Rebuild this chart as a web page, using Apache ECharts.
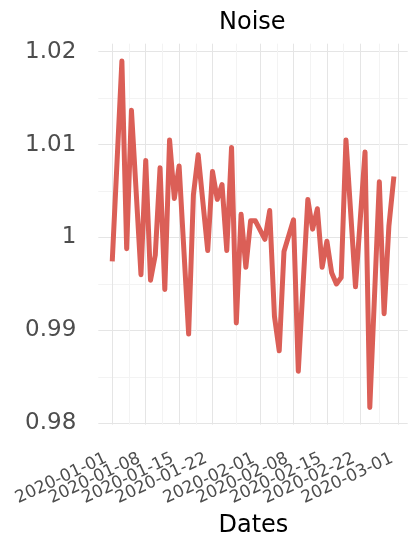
<!DOCTYPE html>
<html>
<head>
<meta charset="utf-8">
<script src="https://cdn.jsdelivr.net/npm/echarts@6/dist/echarts.min.js"></script>
<style>html,body{margin:0;padding:0;background:#fff}#c{width:417px;height:547px}</style>
</head>
<body>
<div id="c"></div>
<script>
// ---- data ----
const dates = [
  '2020-01-01','2020-01-03','2020-01-04','2020-01-05','2020-01-07','2020-01-08','2020-01-09','2020-01-10',
  '2020-01-11','2020-01-12','2020-01-13','2020-01-14','2020-01-15','2020-01-17','2020-01-18','2020-01-19',
  '2020-01-21','2020-01-22','2020-01-23','2020-01-24','2020-01-25','2020-01-26','2020-01-27','2020-01-28',
  '2020-01-29','2020-01-30','2020-01-31','2020-02-01','2020-02-02','2020-02-03','2020-02-04','2020-02-05',
  '2020-02-06','2020-02-08','2020-02-09','2020-02-11','2020-02-12','2020-02-13','2020-02-14','2020-02-15',
  '2020-02-16','2020-02-17','2020-02-18','2020-02-19','2020-02-21','2020-02-23','2020-02-24','2020-02-26',
  '2020-02-27','2020-02-28','2020-02-29'
];
const noise = [
  0.9977, 1.0190, 0.9988, 1.0137, 0.9960, 1.0083, 0.9954, 0.9981,
  1.0075, 0.9944, 1.0105, 1.0042, 1.0077, 0.9896, 1.0046, 1.0089,
  0.9986, 1.0071, 1.0041, 1.0057, 0.9986, 1.0097, 0.9908, 1.0025,
  0.9968, 1.0018, 1.0018, 1.0008, 0.9998, 1.0029, 0.9915, 0.9878,
  0.9985, 1.0019, 0.9856, 1.0041, 1.0009, 1.0031, 0.9968, 0.9996,
  0.9962, 0.9950, 0.9957, 1.0105, 0.9947, 1.0092, 0.9817, 1.0060,
  0.9918, 1.0012, 1.0063
];
const xTickLabels = ['2020-01-01','2020-01-08','2020-01-15','2020-01-22','2020-02-01','2020-02-08','2020-02-15','2020-02-22','2020-03-01'];
const yTickValues = [0.98, 0.99, 1.00, 1.01, 1.02];
const yTickLabels = ['0.98', '0.99', '1', '1.01', '1.02'];
const yMinorValues = [0.985, 0.995, 1.005, 1.015];

// ---- helpers ----
const DAY = 86400000;
const t0 = Date.parse('2020-01-01');
const toDay = d => (Date.parse(d) - t0) / DAY;
const xMajor = xTickLabels.map(toDay);
const xMinor = xMajor.slice(1).map((v, i) => (v + xMajor[i]) / 2);
const seriesData = dates.map((d, i) => [toDay(d), noise[i]]);
const labelForDay = v => { const i = xMajor.findIndex(m => Math.abs(m - v) < 1e-6); return i >= 0 ? xTickLabels[i] : ''; };
const labelForY = v => { const i = yTickValues.findIndex(m => Math.abs(m - v) < 1e-9); return i >= 0 ? yTickLabels[i] : ''; };

const FONT = 'DejaVu Sans';
const X_MIN = -2.95, X_MAX = 61.95, Y_MIN = 0.97986, Y_MAX = 1.02086;
const grid = { left: 98.3, right: 9.3, top: 43.7, bottom: 122.4, containLabel: false };

const chart = echarts.init(document.getElementById('c'), null, { renderer: 'canvas' });
chart.setOption({
  animation: false,
  backgroundColor: '#fff',
  title: [
    { text: 'Noise', left: 214, top: 6, textStyle: { fontFamily: FONT, fontSize: 24, fontWeight: 'normal', color: '#000' } },
    { text: 'Dates', left: 213.5, top: 509, textStyle: { fontFamily: FONT, fontSize: 24, fontWeight: 'normal', color: '#000' } }
  ],
  grid: [grid],
  xAxis: [
    {
      type: 'value', min: X_MIN, max: X_MAX,
      axisLine: { show: false },
      axisTick: { show: false, customValues: xMajor },
      splitLine: { show: true, lineStyle: { color: '#e5e5e5', width: 1 } },
      axisLabel: {
        // boundary placeholders keep the real labels from being auto-hidden when they overlap
        customValues: [X_MIN].concat(xMajor, [X_MAX]), rotate: 25, margin: 30, padding: [0, 7, 0, 0],
        showMinLabel: false, showMaxLabel: false, hideOverlap: false,
        fontFamily: FONT, fontSize: 17, color: '#4d4d4d',
        formatter: v => labelForDay(v)
      }
    },
    {
      type: 'value', min: X_MIN, max: X_MAX, position: 'bottom',
      axisLine: { show: false },
      axisTick: { show: false, customValues: xMinor },
      axisLabel: { show: false, customValues: xMinor },
      splitLine: { show: true, lineStyle: { color: '#f3f3f3', width: 1 } },
      z: 0
    }
  ],
  yAxis: [
    {
      type: 'value', min: Y_MIN, max: Y_MAX,
      axisLine: { show: false },
      axisTick: { show: false, customValues: yTickValues },
      splitLine: { show: true, lineStyle: { color: '#e5e5e5', width: 1 } },
      axisLabel: {
        customValues: yTickValues, margin: 22,
        fontFamily: FONT, fontSize: 23, color: '#4d4d4d',
        formatter: v => labelForY(v)
      }
    },
    {
      type: 'value', min: Y_MIN, max: Y_MAX, position: 'left',
      axisLine: { show: false },
      axisTick: { show: false, customValues: yMinorValues },
      axisLabel: { show: false, customValues: yMinorValues },
      splitLine: { show: true, lineStyle: { color: '#f3f3f3', width: 1 } },
      z: 0
    }
  ],
  series: [{
    type: 'line',
    data: seriesData,
    showSymbol: false,
    symbol: 'none',
    lineStyle: { color: '#db5f57', width: 5, cap: 'square', join: 'round' },
    z: 5
  }]
});
</script>
</body>
</html>
